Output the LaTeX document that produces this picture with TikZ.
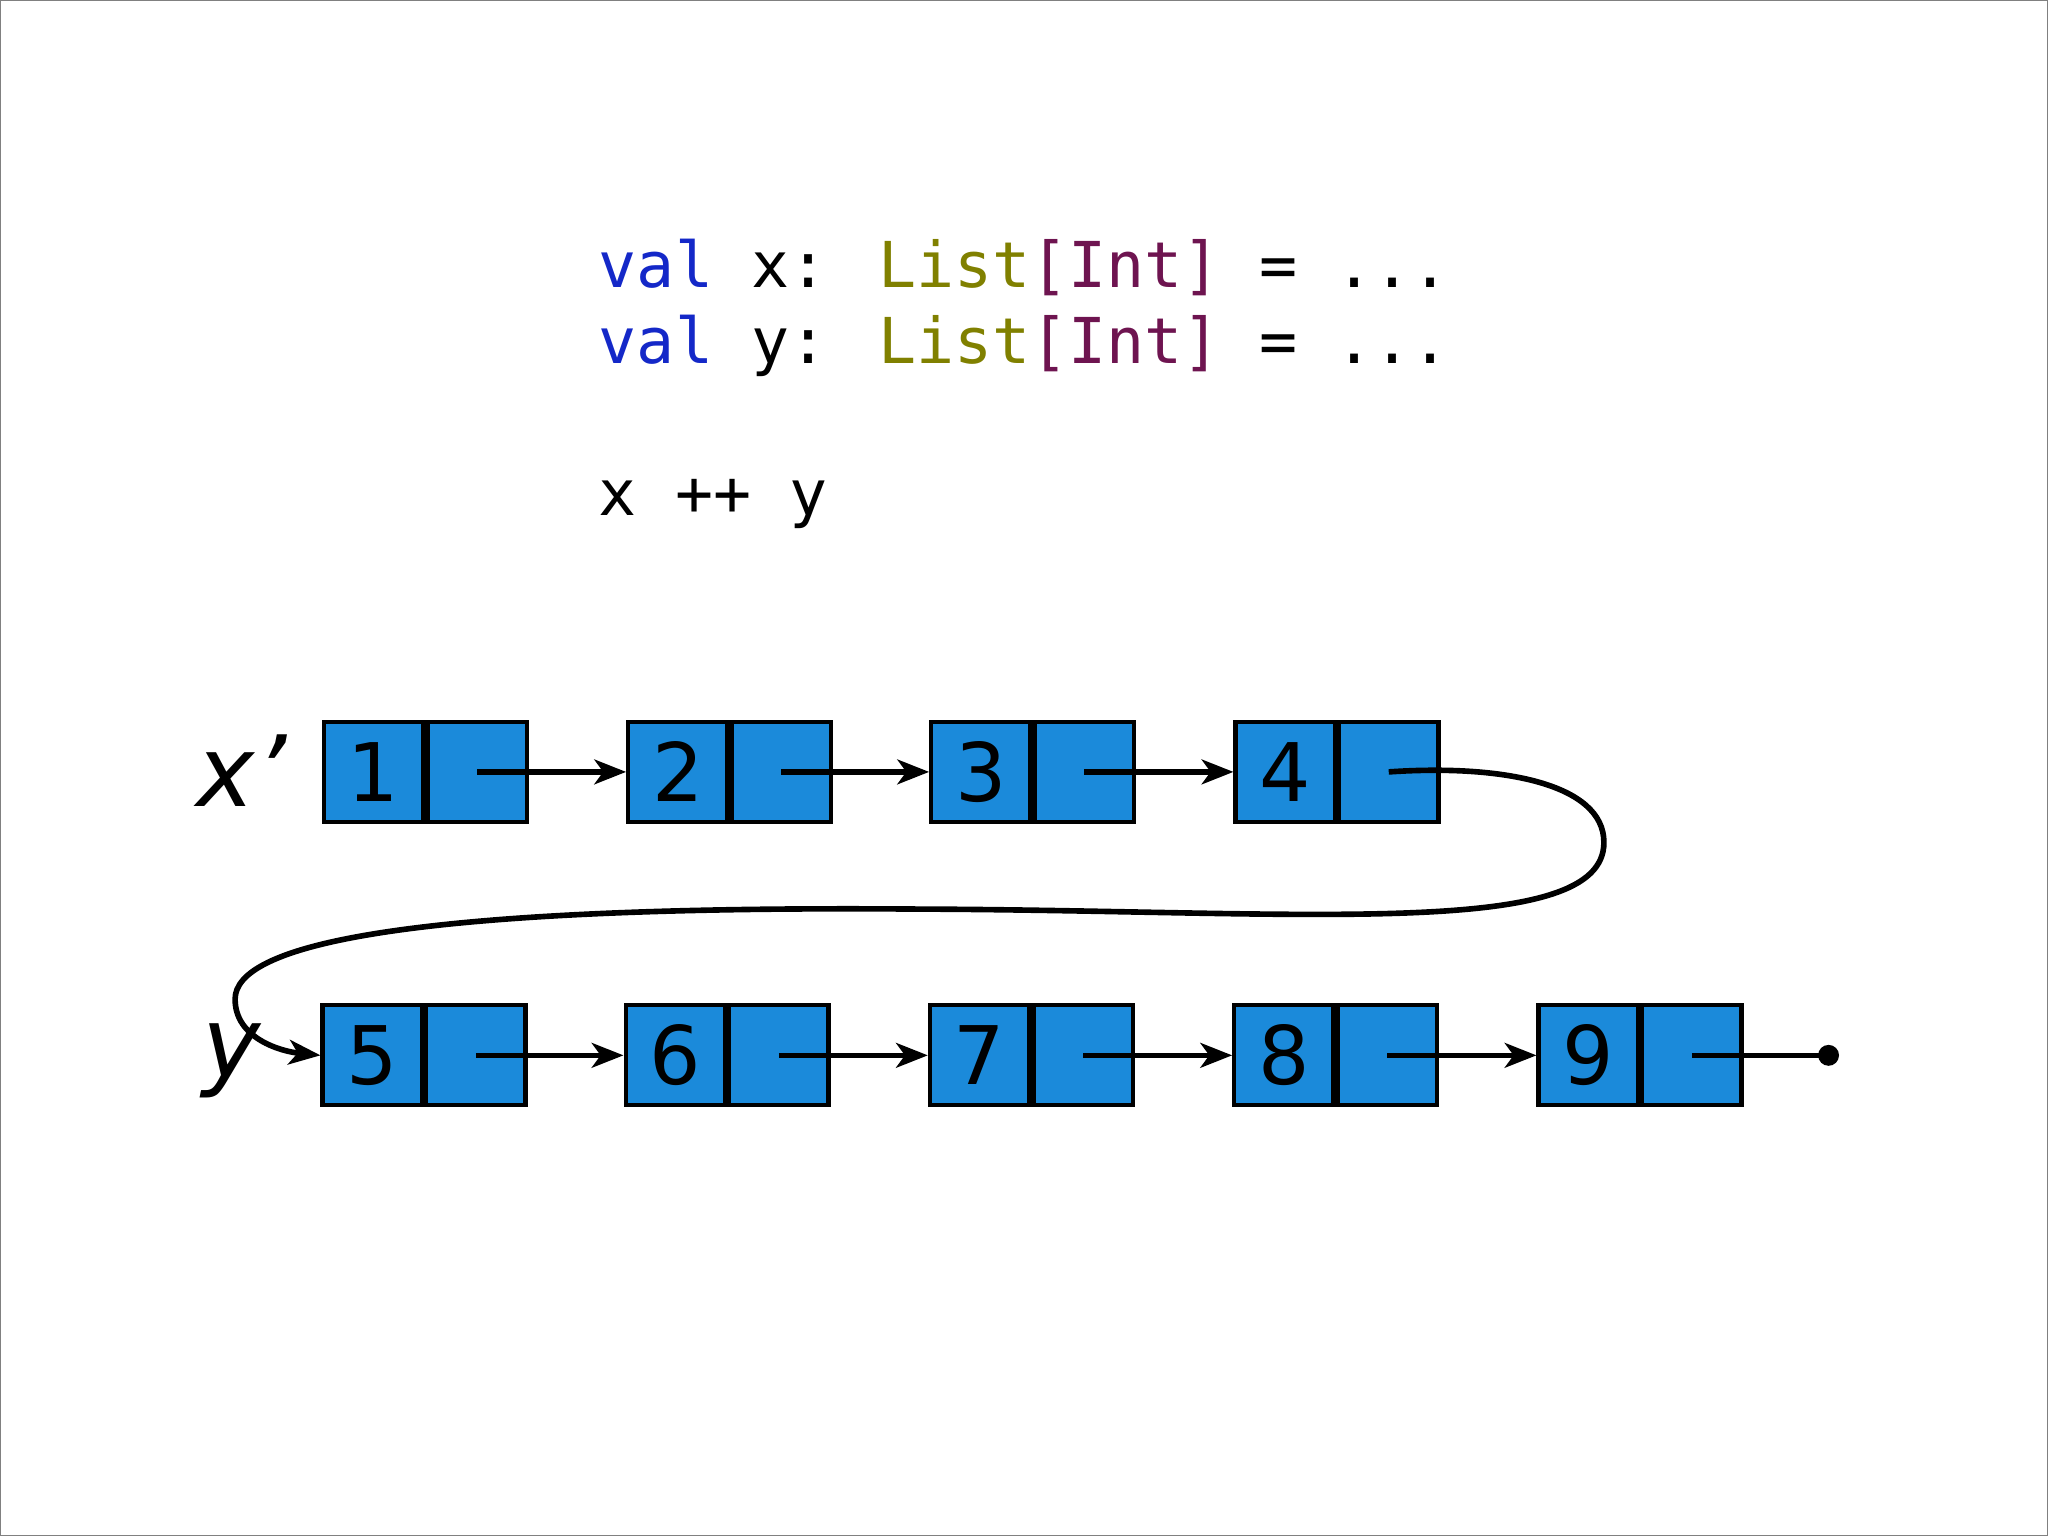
\documentclass[tikz,border=0pt]{standalone}
\usepackage{fontspec}
\setmainfont{DejaVu Sans}
\newfontfamily\codefont{DejaVu Sans Mono}
\usetikzlibrary{arrows.meta,positioning}
\definecolor{cellblue}{RGB}{27,138,218}
\definecolor{kwblue}{RGB}{20,40,200}
\definecolor{typeolive}{RGB}{128,128,0}
\definecolor{brackpurple}{RGB}{110,20,80}
\begin{document}
\begin{tikzpicture}[x=0.01306cm,y=-0.01306cm,
  val cell/.style={draw,line width=1.2pt,fill=cellblue,minimum width=0.993cm,
    minimum height=1.0cm,inner sep=0pt,font=\fontsize{23}{23}\selectfont},
  ptr cell/.style={val cell,right=0pt of #1},
  link/.style={-{Stealth[length=9pt,width=7pt,inset=2.5pt]},line width=1.6pt},
  code/.style={anchor=base west,inner sep=0pt,font=\codefont\fontsize{18}{18}\selectfont}]
  \useasboundingbox (0,0) rectangle (1568,1176);
  \draw[gray,line width=0.6pt] (0,0) rectangle (1568,1176);
  % code
  \node[code] (l1) at (458,220) {\textcolor{kwblue}{val} x: \textcolor{typeolive}{List}\textcolor{brackpurple}{[Int]} = ...};
  \node[code] (l2) at (458,278) {\textcolor{kwblue}{val} y: \textcolor{typeolive}{List}\textcolor{brackpurple}{[Int]} = ...};
  \node[code] (l3) at (458,395) {x ++ y};
  % first list
  \foreach \i/\x in {1/286,2/519,3/751,4/984}{
    \node[val cell] (v\i) at (\x,591) {\i};
    \node[ptr cell=v\i] (p\i) {};
  }
  % second list
  \foreach \i/\x in {5/285,6/517,7/750,8/983,9/1216}{
    \node[val cell] (v\i) at (\x,808) {\i};
    \node[ptr cell=v\i] (p\i) {};
  }
  \node[font=\itshape\fontsize{28}{28}\selectfont] (xl) at (185,590) {x’};
  \node[font=\itshape\fontsize{28}{28}\selectfont] (yl) at (177,812) {y};
  \foreach \a/\b in {1/2,2/3,3/4,5/6,6/7,7/8,8/9}
    \draw[link] (p\a.center) -- (v\b.west);
  \draw[link] (p4.center) .. controls (1150,585) and (1228,600) .. (1228,645)
    .. controls (1228,720) and (1000,697) .. (700,696)
    .. controls (300,693) and (180,725) .. (180,765)
    .. controls (180,795) and (215,805) .. (v5.west);
  \coordinate (end) at (1400,808);
  \draw[line width=1.6pt] (p9.center) -- (end);
  \fill (end) circle (8);
\end{tikzpicture}
\end{document}
